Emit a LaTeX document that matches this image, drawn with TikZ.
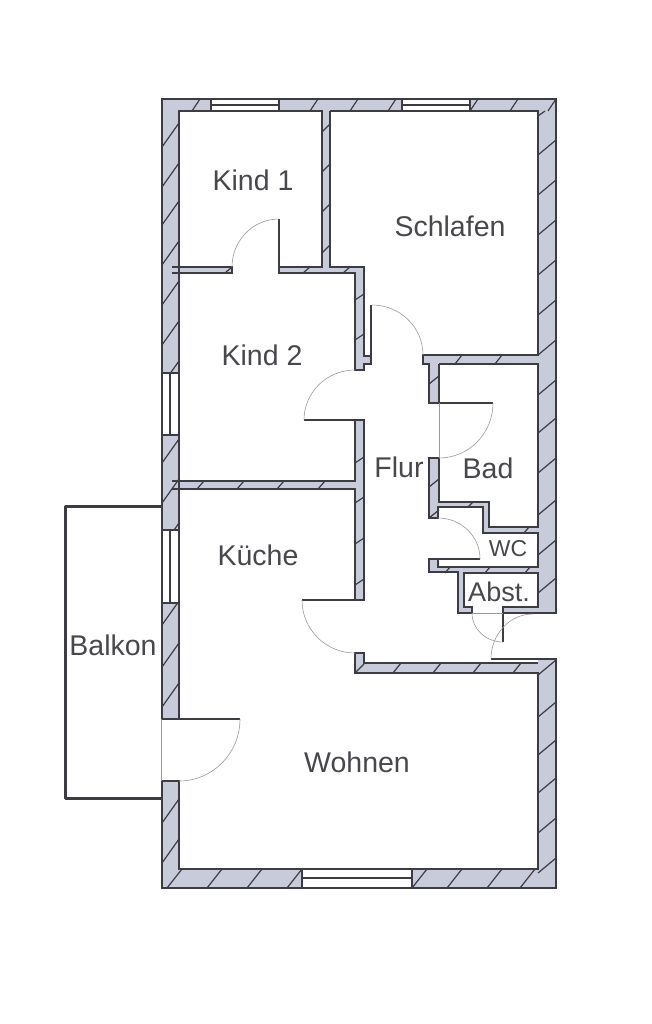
\documentclass[tikz,border=0pt]{standalone}
\usepackage{fontspec}
\setmainfont{Liberation Sans}
\definecolor{wallfill}{HTML}{C8CCDA}
\definecolor{ink}{HTML}{3C3C42}
\definecolor{txt}{HTML}{47474C}
\definecolor{thin}{HTML}{9A9A9E}
\newcommand{\wallrect}[4]{\fill[wallfill] (#1,#2) rectangle (#3,#4);}
\newcommand{\hatchv}[4]{\foreach \yy in {#4} {\draw[hatch] (#1,\yy) -- (#2,\yy-#3);}}
\newcommand{\hatchh}[4]{\foreach \xx in {#4} {\draw[hatch] (\xx,#1) -- (\xx+#3,#2);}}
\newcommand{\windowv}[3]{\fill[white] (162,#2) rectangle (179,#3); \draw[wall] (162,#2) rectangle (179,#3); \draw[wallthin] (#1,#2) -- (#1,#3);}
\newcommand{\windowh}[3]{\fill[white] (#2,#1-6) rectangle (#3,#1+6); \draw[wall] (#2,#1-6) rectangle (#3,#1+6); \draw[wallthin] (#2,#1) -- (#3,#1);}
\tikzset{
  wall/.style={draw=ink,line width=1.5pt,line join=miter},
  wallthin/.style={draw=ink,line width=1.2pt},
  hatch/.style={draw=ink,line width=1.2pt},
  swing/.style={draw=thin,line width=0.6pt},
  room/.style={text=txt,font=\fontsize{28.5}{31}\selectfont,inner sep=0pt},
  roommid/.style={text=txt,font=\fontsize{27}{30}\selectfont,inner sep=0pt},
  roomsmall/.style={text=txt,font=\fontsize{23}{26}\selectfont,inner sep=0pt},
  balcony/.style={draw=ink,line width=3pt,line join=round}
}
\begin{document}
\begin{tikzpicture}[x=1pt,y=-1pt]
\useasboundingbox[fill=white] (0,0) rectangle (652,1024);
% wall fills
\wallrect{162}{99}{556}{111}
\wallrect{162}{99}{179}{719}
\wallrect{162}{781}{179}{888}
\wallrect{162}{869}{556}{888}
\wallrect{538}{99}{556}{613}
\wallrect{538}{659}{556}{888}
\wallrect{322}{111}{330}{267}
\wallrect{172}{267}{232}{273}
\wallrect{279}{267}{364}{273}
\wallrect{355}{273}{364}{370}
\wallrect{364}{356}{371}{364}
\wallrect{423}{355}{538}{364}
\wallrect{429}{364}{439}{403}
\wallrect{429}{458}{439}{518}
\wallrect{439}{502}{489}{507}
\wallrect{483}{507}{489}{533}
\wallrect{483}{527}{538}{533}
\wallrect{429}{559}{438}{572}
\wallrect{429}{567}{538}{573}
\wallrect{458}{573}{464}{613}
\wallrect{464}{607}{472}{613}
\wallrect{503}{607}{538}{613}
\wallrect{355}{420}{364}{600}
\wallrect{172}{481}{355}{489}
\wallrect{355}{653}{364}{673}
\wallrect{364}{663}{538}{673}
% hatching
\hatchv{162}{179}{24}{147,187,225,265,305,345,385,463,503,547,625,667,707,823,863}
\hatchv{538}{556}{15}{155,195,235,275,315,355,395,433,473,515,555,593,675,717,755,793,833,873}
\draw[hatch] (538,116) -- (545,111);
\hatchv{322}{330}{8}{132,172,212,253}
\hatchv{355}{364}{6}{300,340,463,503,544,585}
\hatchv{429}{439}{8}{384,487,518}
\hatchv{355}{364}{9}{673}
\hatchh{111}{99}{8}{192,310,350,388,470,510,548}
\hatchh{888}{869}{15}{167,207,247,287,412,447,487,520}
\hatchh{273}{267}{7}{225,303,343}
\hatchh{489}{481}{7}{197,237,277,318}
\hatchh{364}{355}{7}{455,495}
\hatchh{673}{663}{8}{393,433,473,513}
\hatchh{507}{502}{5}{468}
\hatchh{533}{527}{5}{524}
\hatchh{573}{567}{5}{445,485,525}
% outlines
\draw[wall] (162,719) -- (162,99) -- (556,99) -- (556,613) -- (533,613);
\draw[wall] (179,373) -- (179,111) -- (322,111) -- (322,267) -- (279,267);
\draw[wall] (172,267) -- (232,267) -- (232,273) -- (172,273);
\draw[wall] (330,111) -- (538,111) -- (538,355) -- (423,355) -- (423,364) -- (429,364) -- (429,403) -- (493,403);
\draw[wall] (330,111) -- (330,267) -- (364,267) -- (364,356) -- (371,356) -- (371,305);
\draw[wall] (371,356) -- (371,364) -- (364,364) -- (364,370) -- (355,370) -- (355,273) -- (279,273) -- (279,219);
\draw[wall] (179,273) -- (179,373);
\draw[wall] (304,420) -- (364,420) -- (364,600) -- (302,600);
\draw[wall] (355,420) -- (355,481) -- (172,481);
\draw[wall] (172,489) -- (355,489) -- (355,600);
\draw[wall] (179,435) -- (179,530);
\draw[wall] (179,603) -- (179,719);
\draw[wall] (162,719) -- (240,719);
\draw[wall] (162,506) -- (162,719);
\draw[wall] (162,781) -- (179,781) -- (179,869) -- (538,869) -- (538,673) -- (355,673) -- (355,653) -- (364,653) -- (364,663) -- (538,663);
\draw[wall] (491,659) -- (556,659) -- (556,888) -- (162,888) -- (162,781);
\draw[wall] (439,364) -- (538,364) -- (538,527) -- (489,527) -- (489,502) -- (439,502) -- (439,458) -- (429,458) -- (429,518) -- (438,518) -- (438,507) -- (483,507) -- (483,533) -- (538,533) -- (538,567) -- (438,567) -- (438,559);
\draw[wall] (439,364) -- (439,403);
\draw[wall] (480,559) -- (429,559) -- (429,572) -- (458,572) -- (458,613) -- (472,613) -- (472,607) -- (464,607) -- (464,573) -- (538,573) -- (538,607) -- (503,607) -- (503,642);
\draw[wall] (503,613) -- (533,613);
\draw[balcony] (162,506) -- (65,506) -- (65,798) -- (162,798);
% windows
\windowh{105}{211}{279}
\windowh{105}{402}{470}
\fill[white] (302,869) rectangle (412,888);
\draw[wall] (302,869) rectangle (412,888);
\draw[wallthin] (302,878) -- (412,878);
\windowv{170}{373}{435}
\windowv{170}{530}{603}
% door swings
\draw[swing] (279,219) to[out=180,in=90] (232,267);
\draw[swing] (372,305) to[out=0,in=90] (423,355);
\draw[swing] (355,370) to[out=180,in=90] (304,420);
\draw[swing] (493,403) to[out=-90,in=0] (439,458);
\draw[swing] (439,403) -- (439,458);
\draw[swing] (438,518) to[out=0,in=90] (480,559);
\draw[swing] (472,613) to[out=-90,in=180] (503,642);
\draw[swing] (472,613) -- (503,613);
\draw[swing] (533,614) to[out=180,in=90] (491,659);
\draw[swing] (302,600) to[out=-90,in=180] (355,653);
\draw[swing] (240,719) to[out=-90,in=0] (179,781);
\draw[swing] (161,719) -- (161,781);
% labels
\node[room] (kind1) at (253,180) {Kind 1};
\node[room] (schlafen) at (450,226) {Schlafen};
\node[room] (kind2) at (262,355) {Kind 2};
\node[room] (flur) at (399,467) {Flur};
\node[room] (bad) at (488,468) {Bad};
\node[roomsmall] (wc) at (508,549) {WC};
\node[roommid] (abst) at (499,592) {Abst.};
\node[room] (kueche) at (258,555) {Küche};
\node[room] (balkon) at (113,645) {Balkon};
\node[room] (wohnen) at (357,762) {Wohnen};
\end{tikzpicture}
\end{document}
